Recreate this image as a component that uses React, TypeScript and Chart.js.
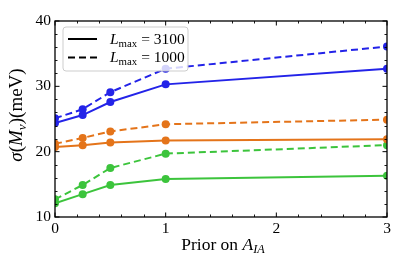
import React, { useEffect, useRef } from "react";
import { Chart, registerables } from "chart.js";

Chart.register(...registerables);

const priors = [0, 0.25, 0.5, 1, 3];
const blue3100 = [24.4, 25.6, 27.6, 30.3, 32.7];
const blue1000 = [25.1, 26.5, 29.1, 32.7, 36.1];
const orange3100 = [20.7, 21.0, 21.4, 21.7, 21.9];
const orange1000 = [21.2, 22.1, 23.1, 24.2, 24.9];
const green3100 = [12.1, 13.5, 14.9, 15.8, 16.3];
const green1000 = [12.7, 14.9, 17.5, 19.7, 21.0];
const xTicks = [0, 1, 2, 3];
const yTicks = [10, 20, 30, 40];
const xMinorStep = 0.2;
const yMinorStep = 2;
const legendValues = ["3100", "1000"];
const xTitle = ["Prior on ", "A", "IA"];
const yTitle = ["σ", "(", "M", "ν", ")(meV)"];

const BLUE = "#2323e8";
const ORANGE = "#e4741a";
const GREEN = "#3cc43c";
const FONT = '"Liberation Serif", "DejaVu Serif", serif';

type Seg = { t: string; it?: boolean; sub?: boolean };

function segFont(s: Seg, size: number) {
  const sz = s.sub ? size * 0.7 : size;
  return `${s.it ? "italic " : ""}${sz}px ${FONT}`;
}

function drawRich(ctx: CanvasRenderingContext2D, segs: Seg[], x: number, y: number, size: number, align: "left" | "center") {
  ctx.save();
  ctx.textBaseline = "alphabetic";
  ctx.textAlign = "left";
  let total = 0;
  for (const s of segs) {
    ctx.font = segFont(s, size);
    total += ctx.measureText(s.t).width;
  }
  let cx = align === "center" ? x - total / 2 : x;
  for (const s of segs) {
    ctx.font = segFont(s, size);
    ctx.fillText(s.t, cx, s.sub ? y + size * 0.22 : y);
    cx += ctx.measureText(s.t).width;
  }
  ctx.restore();
}

const mk = (vals: number[]) => priors.map((p, i) => ({ x: p, y: vals[i] }));

function ds(vals: number[], color: string, dashed: boolean) {
  return {
    data: mk(vals),
    borderColor: color,
    backgroundColor: color,
    borderWidth: 2,
    borderDash: dashed ? [7, 4] : [],
    pointRadius: 4,
    pointBorderWidth: 0,
    pointBackgroundColor: color,
    tension: 0,
    fill: false,
  };
}

const decor = {
  id: "decor",
  afterDatasetsDraw(chart: any) {
    const ctx: CanvasRenderingContext2D = chart.ctx;
    ctx.save();
    const lx = 63, ly = 27, lw = 125, lh = 44, r = 3;
    ctx.beginPath();
    ctx.moveTo(lx + r, ly);
    ctx.lineTo(lx + lw - r, ly);
    ctx.quadraticCurveTo(lx + lw, ly, lx + lw, ly + r);
    ctx.lineTo(lx + lw, ly + lh - r);
    ctx.quadraticCurveTo(lx + lw, ly + lh, lx + lw - r, ly + lh);
    ctx.lineTo(lx + r, ly + lh);
    ctx.quadraticCurveTo(lx, ly + lh, lx, ly + lh - r);
    ctx.lineTo(lx, ly + r);
    ctx.quadraticCurveTo(lx, ly, lx + r, ly);
    ctx.closePath();
    ctx.fillStyle = "rgba(255,255,255,0.8)";
    ctx.fill();
    ctx.strokeStyle = "rgba(200,200,200,0.9)";
    ctx.lineWidth = 1;
    ctx.stroke();
    ctx.strokeStyle = "#000";
    ctx.lineWidth = 2;
    const rows = [39, 57.5];
    rows.forEach((yy, i) => {
      ctx.setLineDash(i === 0 ? [] : [7, 4]);
      ctx.beginPath();
      ctx.moveTo(68, yy);
      ctx.lineTo(97, yy);
      ctx.stroke();
      ctx.setLineDash([]);
      ctx.fillStyle = "#000";
      drawRich(ctx, [{ t: "L", it: true }, { t: "max", sub: true }, { t: " = " + legendValues[i] }], 110, yy + 4.5, 15.5, "left");
    });
    ctx.restore();
  },
  afterDraw(chart: any) {
    const ctx: CanvasRenderingContext2D = chart.ctx;
    const { left, right, top, bottom } = chart.chartArea;
    const xs = chart.scales.x;
    const ys = chart.scales.y;
    ctx.save();
    ctx.strokeStyle = "#000";
    const tick = (px: number, horiz: boolean, len: number) => {
      ctx.beginPath();
      if (horiz) {
        ctx.moveTo(px, bottom);
        ctx.lineTo(px, bottom - len);
        ctx.moveTo(px, top);
        ctx.lineTo(px, top + len);
      } else {
        ctx.moveTo(left, px);
        ctx.lineTo(left + len, px);
        ctx.moveTo(right, px);
        ctx.lineTo(right - len, px);
      }
      ctx.stroke();
    };
    ctx.lineWidth = 0.9;
    const x0 = xTicks[0], x1 = xTicks[xTicks.length - 1];
    for (let k = 0; x0 + k * xMinorStep <= x1 + 1e-9; k++) {
      const v = x0 + k * xMinorStep;
      if (xTicks.some((t) => Math.abs(t - v) < 1e-6)) continue;
      tick(Math.round(xs.getPixelForValue(v)) + 0.5, true, 2.5);
    }
    const y0 = yTicks[0], y1 = yTicks[yTicks.length - 1];
    for (let k = 0; y0 + k * yMinorStep <= y1 + 1e-9; k++) {
      const v = y0 + k * yMinorStep;
      if (yTicks.some((t) => Math.abs(t - v) < 1e-6)) continue;
      tick(Math.round(ys.getPixelForValue(v)) + 0.5, false, 2.5);
    }
    ctx.lineWidth = 1;
    xTicks.forEach((v) => tick(xs.getPixelForValue(v), true, 4.5));
    yTicks.forEach((v) => tick(ys.getPixelForValue(v), false, 4.5));
    ctx.lineWidth = 1.3;
    ctx.strokeRect(left, top, right - left, bottom - top);
    ctx.fillStyle = "#000";
    drawRich(ctx, [{ t: xTitle[0] }, { t: xTitle[1], it: true }, { t: xTitle[2], it: true, sub: true }], (left + right) / 2 + 2, 249.5, 17.5, "center");
    ctx.translate(16, (top + bottom) / 2 - 4);
    ctx.rotate(-Math.PI / 2);
    drawRich(ctx, [{ t: yTitle[0], it: true }, { t: yTitle[1] }, { t: yTitle[2], it: true }, { t: yTitle[3], it: true, sub: true }, { t: yTitle[4] }], 0, 6, 19, "center");
    ctx.restore();
  },
};

export default function App() {
  const ref = useRef<HTMLCanvasElement | null>(null);
  useEffect(() => {
    if (!ref.current) return;
    const chart = new Chart(ref.current, {
      type: "line",
      data: {
        datasets: [
          ds(blue3100, BLUE, false),
          ds(blue1000, BLUE, true),
          ds(orange3100, ORANGE, false),
          ds(orange1000, ORANGE, true),
          ds(green3100, GREEN, false),
          ds(green1000, GREEN, true),
        ] as any,
      },
      options: {
        animation: false,
        responsive: false,
        devicePixelRatio: 1,
        layout: { padding: { left: 0, top: 21, right: 20, bottom: 0 } },
        plugins: { legend: { display: false }, tooltip: { enabled: false }, title: { display: false } },
        scales: {
          x: {
            type: "linear",
            min: 0,
            max: 3,
            grid: { display: false, drawTicks: false },
            border: { display: false },
            afterBuildTicks: (s: any) => {
              s.ticks = xTicks.map((v) => ({ value: v }));
            },
            afterFit: (s: any) => {
              s.height = 54;
            },
            ticks: { color: "#000", padding: 3, maxRotation: 0, font: { family: FONT, size: 15.5 } },
          },
          y: {
            type: "linear",
            min: 10,
            max: 40,
            grid: { display: false, drawTicks: false },
            border: { display: false },
            afterBuildTicks: (s: any) => {
              s.ticks = yTicks.map((v) => ({ value: v }));
            },
            afterFit: (s: any) => {
              s.width = 55;
            },
            ticks: { color: "#000", padding: 4, font: { family: FONT, size: 15.5 } },
          },
        },
      } as any,
      plugins: [decor],
    });
    return () => chart.destroy();
  }, []);
  return (
    <div style={{ position: "absolute", left: 0, top: 0, width: 407, height: 271, background: "#fff" }}>
      <canvas ref={ref} width={407} height={271} />
    </div>
  );
}
